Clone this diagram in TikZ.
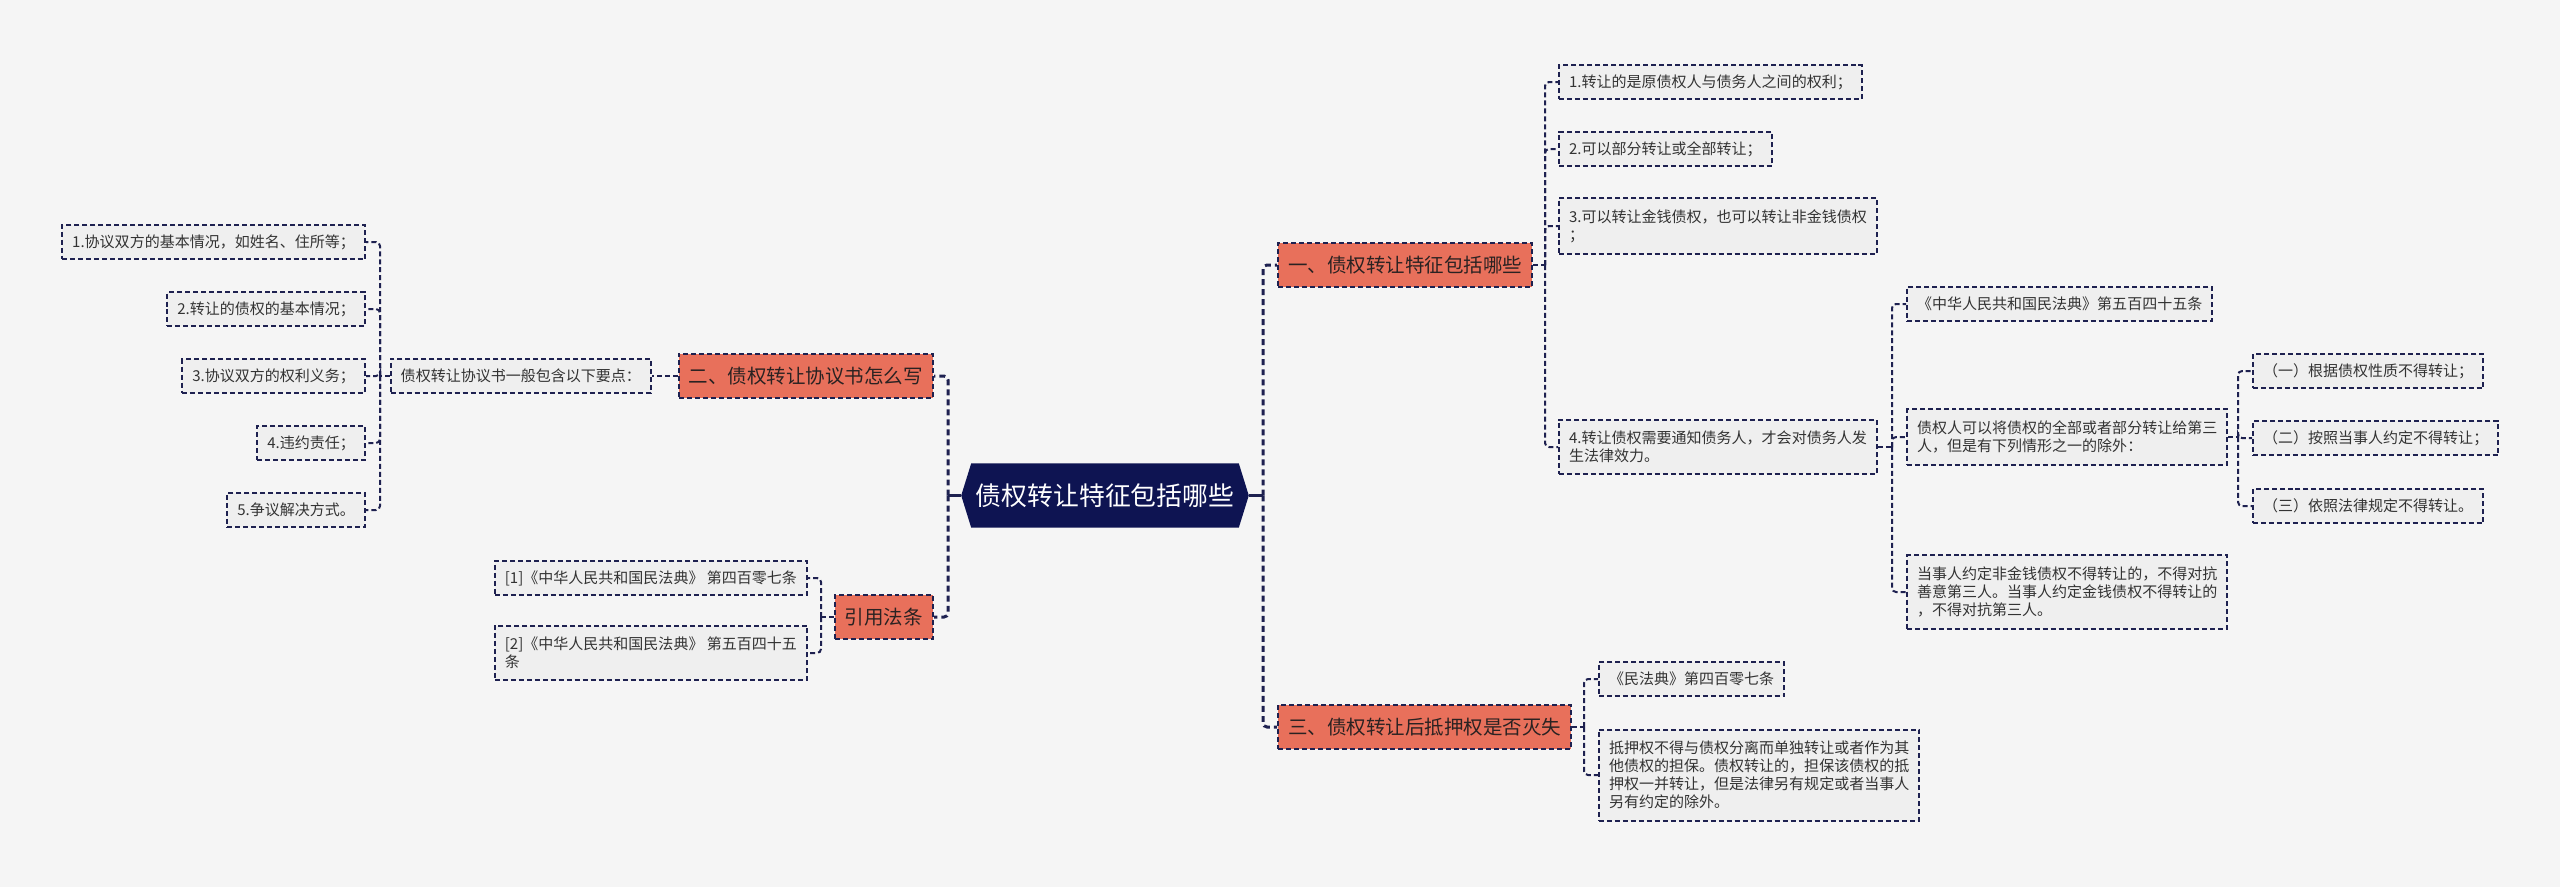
\documentclass[tikz,border=0pt]{standalone}
\usepackage{fontspec}
\setmainfont{Noto Sans CJK SC}
\usetikzlibrary{backgrounds}
\definecolor{bgc}{HTML}{F5F5F5}
\definecolor{leaff}{HTML}{EFEFEF}
\definecolor{linec}{HTML}{1E2150}
\definecolor{orangef}{HTML}{E8705B}
\definecolor{navyf}{HTML}{0E1452}
\definecolor{txt}{HTML}{333333}
\definecolor{ttxt}{HTML}{2A2222}
\tikzset{
  dashln/.style={draw=linec, line width=0.57pt, dash pattern=on 1.42pt off 0.85pt},
  conn/.style={dashln, rounded corners=0.04cm},
  trunk/.style={draw=linec, line width=0.85pt, dash pattern=on 1.7pt off 1.15pt, rounded corners=0.04cm},
  leaf/.style={dashln, fill=leaff, text=txt, font=\fontsize{4.27pt}{5.12pt}\selectfont,
    inner xsep=0.1cm, inner ysep=0.095cm, minimum height=0.34cm, align=left},
  multi/.style={leaf, inner ysep=0.115cm},
  topic/.style={dashln, fill=orangef, text=ttxt, font=\fontsize{5.55pt}{6.5pt}\selectfont,
    inner xsep=0.1cm, inner ysep=0.08cm, minimum height=0.44cm},
  rootbox/.style={text=white, font=\fontsize{7.34pt}{8pt}\selectfont, inner sep=0pt,
    minimum width=2.66cm, minimum height=0.63cm},
  rootln/.style={draw=linec, line width=0.85pt},
}
\begin{document}
\begin{tikzpicture}[x=0.01cm,y=-0.01cm]
\begin{scope}[on background layer]
  \fill[bgc] (0,0) rectangle (2560,887);
\end{scope}
\useasboundingbox (0,0) rectangle (2560,887);

% root
\node[rootbox] (root) at (1105,495.5) {债权转让特征包括哪些};
\coordinate (rootW) at ([xshift=-0.1cm]root.west);
\coordinate (rootE) at ([xshift=0.1cm]root.east);
\begin{scope}[on background layer]
  \fill[navyf] (root.north west) -- (root.north east) -- (rootE) -- (root.south east)
    -- (root.south west) -- (rootW) -- cycle;
\end{scope}
\coordinate (tL) at (948,495.5);
\coordinate (tR) at (1263,495.5);
\draw[rootln] (rootW) -- (tL);
\draw[rootln] (rootE) -- (tR);

% topics
\node[topic, anchor=west] (t1) at (1277,265) {一、债权转让特征包括哪些};
\node[topic, anchor=west] (t3) at (1277,727) {三、债权转让后抵押权是否灭失};
\node[topic, anchor=east] (t2) at (934,376) {二、债权转让协议书怎么写};
\node[topic, anchor=east] (t4) at (934,617) {引用法条};
\draw[trunk] (tR) |- (t1.west);
\draw[trunk] (tR) |- (t3.west);
\draw[trunk] (tL) |- (t2.east);
\draw[trunk] (tL) |- (t4.east);

% left: topic 2
\node[leaf, anchor=east] (a0) at (652,376) {债权转让协议书一般包含以下要点：};
\draw[conn] (t2.west) -- (a0.east);
\coordinate (ba) at (380,376);
\node[leaf, anchor=east] (a1) at (366,242) {1.协议双方的基本情况，如姓名、住所等；};
\node[leaf, anchor=east] (a2) at (366,309) {2.转让的债权的基本情况；};
\node[leaf, anchor=east] (a3) at (366,376) {3.协议双方的权利义务；};
\node[leaf, anchor=east] (a4) at (366,443) {4.违约责任；};
\node[leaf, anchor=east] (a5) at (366,510) {5.争议解决方式。};
\draw[conn] (a0.west) -- (ba);
\foreach \i in {1,...,5} \draw[conn] (ba) |- (a\i.east);

% left: references
\coordinate (br) at (821,617);
\node[leaf, anchor=east] (r1) at (808,578) {[1]《中华人民共和国民法典》 第四百零七条};
\node[multi, anchor=east] (r2) at (808,653) {[2]《中华人民共和国民法典》 第五百四十五\\条};
\draw[conn] (t4.west) -- (br);
\draw[conn] (br) |- (r1.east);
\draw[conn] (br) |- (r2.east);

% right: topic 1
\coordinate (b1) at (1545,265);
\node[leaf, anchor=west] (c1) at (1558,82) {1.转让的是原债权人与债务人之间的权利；};
\node[leaf, anchor=west] (c2) at (1558,149) {2.可以部分转让或全部转让；};
\node[multi, anchor=west] (c3) at (1558,226) {3.可以转让金钱债权，也可以转让非金钱债权\\；};
\node[multi, anchor=west] (c4) at (1558,447) {4.转让债权需要通知债务人，才会对债务人发\\生法律效力。};
\draw[conn] (t1.east) -- (b1);
\foreach \i in {1,...,4} \draw[conn] (b1) |- (c\i.west);

\coordinate (b4) at (1892,447);
\node[leaf, anchor=west] (d1) at (1906,304) {《中华人民共和国民法典》第五百四十五条};
\node[multi, anchor=west] (d2) at (1906,437) {债权人可以将债权的全部或者部分转让给第三\\人，但是有下列情形之一的除外：};
\node[multi, anchor=west] (d3) at (1906,592) {当事人约定非金钱债权不得转让的，不得对抗\\善意第三人。当事人约定金钱债权不得转让的\\，不得对抗第三人。};
\draw[conn] (c4.east) -- (b4);
\foreach \i in {1,...,3} \draw[conn] (b4) |- (d\i.west);

\coordinate (bd) at (2238,437);
\node[leaf, anchor=west] (e1) at (2252,371) {（一）根据债权性质不得转让；};
\node[leaf, anchor=west] (e2) at (2252,438) {（二）按照当事人约定不得转让；};
\node[leaf, anchor=west] (e3) at (2252,506) {（三）依照法律规定不得转让。};
\draw[conn] (d2.east) -- (bd);
\foreach \i in {1,...,3} \draw[conn] (bd) |- (e\i.west);

% right: topic 3
\coordinate (b3) at (1584,727);
\node[leaf, anchor=west] (f1) at (1598,679) {《民法典》第四百零七条};
\node[multi, anchor=west] (f2) at (1598,775) {抵押权不得与债权分离而单独转让或者作为其\\他债权的担保。债权转让的，担保该债权的抵\\押权一并转让，但是法律另有规定或者当事人\\另有约定的除外。};
\draw[conn] (t3.east) -- (b3);
\draw[conn] (b3) |- (f1.west);
\draw[conn] (b3) |- (f2.west);
\end{tikzpicture}
\end{document}
